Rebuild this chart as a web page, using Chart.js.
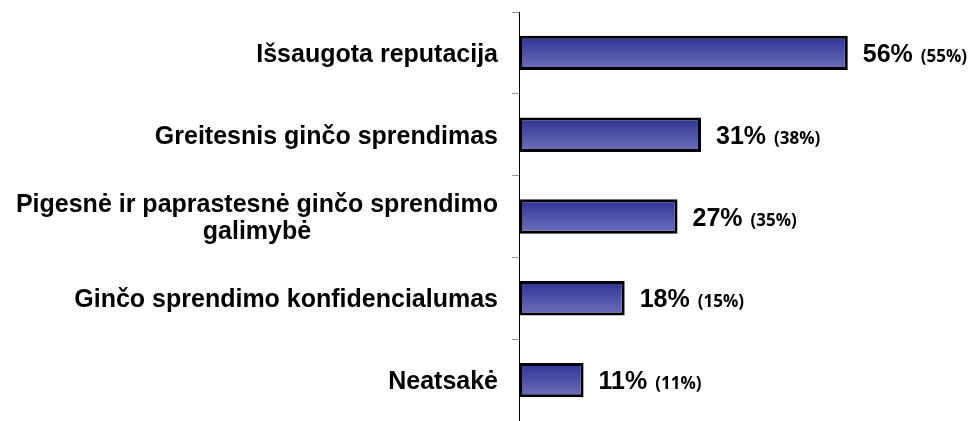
<!DOCTYPE html>
<html>
<head>
<meta charset="utf-8">
<script src="https://cdn.jsdelivr.net/npm/chart.js@4"></script>
<style>
  body { margin: 0; background: #fff; }
  #wrap { width: 971px; height: 421px; }
</style>
</head>
<body>
<div id="wrap"><canvas id="answersChart"></canvas></div>
<script>
const categories = [
    'Išsaugota reputacija',
    'Greitesnis ginčo sprendimas',
    ['Pigesnė ir paprastesnė ginčo sprendimo', 'galimybė'],
    'Ginčo sprendimo konfidencialumas',
    'Neatsakė'
];
const current = [56, 31, 27, 18, 11];
const previous = [55, 38, 35, 15, 11];

const barPct = 0.42;

function barGradient(context) {
    const chart = context.chart;
    const yScale = chart.scales.y;
    if (!chart.chartArea || !yScale) return '#4a4fa5';
    const cy = yScale.getPixelForValue(context.dataIndex);
    const half = (yScale.height / categories.length) * barPct / 2;
    const g = chart.ctx.createLinearGradient(0, cy - half, 0, cy + half);
    g.addColorStop(0, '#2e3393');
    g.addColorStop(1, '#7070bb');
    return g;
}

// category labels drawn by hand so the two-line one is centred
const sideLabels = {
    id: 'sideLabels',
    afterDraw(chart) {
        const c = chart.ctx;
        const y = chart.scales.y;
        c.save();
        c.font = 'bold 25px "Liberation Sans", Arial, sans-serif';
        c.fillStyle = '#000';
        c.textAlign = 'center';
        c.textBaseline = 'alphabetic';
        categories.forEach((lab, i) => {
            const lines = Array.isArray(lab) ? lab : [lab];
            const cy = y.getPixelForValue(i);
            const w = Math.max(...lines.map(l => c.measureText(l).width));
            const right = y.right - 21;
            lines.forEach((l, k) => {
                const ly = cy + 9 + (k - (lines.length - 1) / 2) * 27;
                c.fillText(l, right - w / 2, ly);
            });
        });
        c.restore();
    }
};

const valueLabels = {
    id: 'valueLabels',
    afterDatasetsDraw(chart) {
        const c = chart.ctx;
        const meta = chart.getDatasetMeta(0);
        c.save();
        c.fillStyle = '#000';
        c.textAlign = 'left';
        c.textBaseline = 'alphabetic';
        meta.data.forEach((bar, i) => {
            const x = bar.x + 15;
            const by = bar.y + 9;
            c.font = 'bold 25px "Liberation Sans", Arial, sans-serif';
            const main = current[i] + '%';
            c.fillText(main, x, by);
            const w = c.measureText(main).width;
            c.font = 'bold 17px "Open Sans", sans-serif';
            c.fillText('(' + previous[i] + '%)', x + w + 8, by);
        });
        c.restore();
    }
};

new Chart(document.getElementById('answersChart'), {
    type: 'bar',
    data: {
        labels: categories,
        datasets: [
            {
                label: 'Atsakymai',
                data: current,
                backgroundColor: barGradient,
                borderColor: '#000',
                borderWidth: 3,
                borderSkipped: false,
                categoryPercentage: 1,
                barPercentage: barPct
            }
        ]
    },
    options: {
        indexAxis: 'y',
        responsive: true,
        maintainAspectRatio: false,
        animation: false,
        layout: { padding: { top: 12, right: 41, bottom: 0, left: 0 } },
        plugins: {
            legend: { display: false },
            tooltip: { enabled: false }
        },
        scales: {
            x: {
                display: false,
                min: 0,
                max: 70
            },
            y: {
                afterFit: (scale) => { scale.width = 519; },
                ticks: { display: false },
                grid: {
                    offset: true,
                    drawOnChartArea: false,
                    drawTicks: true,
                    tickLength: 7,
                    color: '#999'
                },
                border: { display: true, color: '#000', width: 1 }
            }
        }
    },
    plugins: [sideLabels, valueLabels]
});
</script>
</body>
</html>
